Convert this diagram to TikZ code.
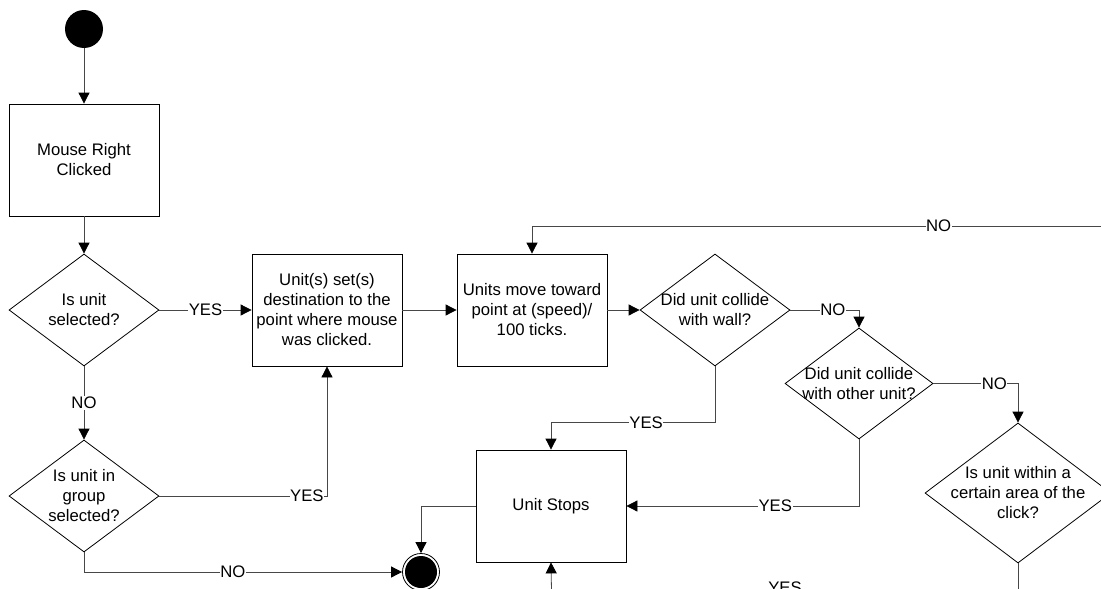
\documentclass[tikz,border=0pt]{standalone}
\usepackage{fontspec}
\setmainfont{Liberation Sans}
\usetikzlibrary{shapes.geometric,arrows.meta,calc}
\begin{document}
\begin{tikzpicture}[x=1pt,y=-1pt,
  txt/.style={font=\fontsize{16.7}{20}\selectfont, align=center},
  process/.style={rectangle, draw=black, line width=0.8pt, minimum width=150pt,
    minimum height=112pt, inner sep=0pt, txt},
  decision/.style={diamond, draw=black, line width=0.8pt, minimum width=150pt,
    minimum height=112pt, inner sep=0pt},
  dtext/.style={txt, inner sep=0pt},
  flow/.style={draw=black!72, line width=0.8pt,
    -{Triangle[length=11pt,width=11pt,black,fill=black]}},
  plain/.style={draw=black!72, line width=0.8pt},
  lbl/.style={txt, fill=white, inner sep=0.6pt},
]
\useasboundingbox (0,0) rectangle (1101,589);
\clip (0,0) rectangle (1101,589);

% start / end states
\node[circle, fill=black, minimum size=38pt, inner sep=0pt] (start) at (84,29) {};
\node[circle, draw=black, line width=0.8pt, minimum size=37pt, inner sep=0pt,
  path picture={\fill[black] (path picture bounding box.center) circle (16pt);}]
  (finish) at (421,572) {};

% actions
\node[process] (click) at (84,160) {Mouse Right\\Clicked};
\node[process] (setdest) at (327,310) {Unit(s) set(s)\\destination to the\\point where mouse\\was clicked.};
\node[process] (move) at (532,310) {Units move toward\\point at (speed)/\\100 ticks.};
\node[process] (stop) at (551,506) {Unit Stops};

% decisions
\node[decision, label={[dtext]center:{Is unit\\selected?}}] (sel) at (84,310) {};
\node[decision, label={[dtext]center:{Is unit in\\group\\selected?}}] (grp) at (84,496) {};
\node[decision, label={[dtext]center:{Did unit collide\\with wall?}}] (wall) at (715,310) {};
\node[decision, minimum width=148pt, minimum height=111pt,
  label={[dtext]center:{Did unit collide\\with other unit?}}] (other) at (859,383.5) {};
\node[decision, minimum width=186pt, minimum height=140pt,
  label={[dtext]center:{Is unit within a\\certain area of the\\click?}}] (area) at (1018,493) {};

% loose ends of connectors leaving the sheet
\coordinate (loopin) at (1130,226);
\coordinate (areaout) at (1018,620);
\coordinate (stopin) at (552,620);

% connectors
\draw[flow] (start) -- (click.north);
\draw[flow] (click.south) -- (sel.north);
\draw[flow] (sel.east) -- node[lbl, pos=0.5] {YES} (setdest.west);
\draw[flow] (sel.south) -- node[lbl, pos=0.5] {NO} (grp.north);
\draw[flow] (grp.east) -| node[lbl, pos=0.44] {YES} (setdest.south);
\draw[flow] (grp.south) |- node[lbl, pos=0.734] {NO} (finish.west);
\draw[flow] (setdest.east) -- (move.west);
\draw[flow] (move.east) -- (wall.west);
\draw[flow] (wall.east) -| node[lbl, pos=0.31] {NO} (other.north);
\draw[flow] (other.east) -| node[lbl, pos=0.36] {NO} (area.north);
\draw[flow] (wall.south) -- ++(0,56) coordinate (wallturn)
  -| node[lbl, pos=0.21] {YES} (stop.north);
\draw[flow] (other.south) |- node[lbl, pos=0.68] {YES} (stop.east);
\draw[flow] (stop.west) -| (finish.north);
\draw[flow] (loopin) -| node[lbl, pos=0.16] {NO} (move.north);
\draw[plain] (area.south) -- (areaout);
\draw[flow] (stopin) -- (stop.south);

% label of a branch running along the lower edge of the sheet
\node[txt, inner sep=0pt] (yesbottom) at (785,588) {YES};
\end{tikzpicture}
\end{document}
